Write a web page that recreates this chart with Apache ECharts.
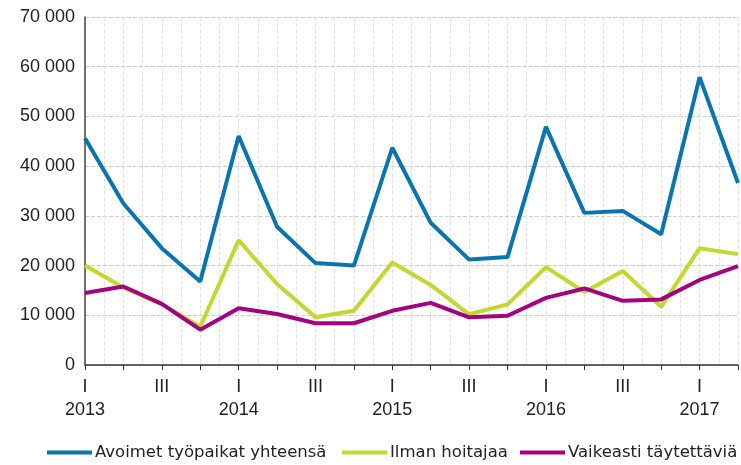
<!DOCTYPE html>
<html><head><meta charset="utf-8">
<script src="https://cdn.jsdelivr.net/npm/echarts@6/dist/echarts.min.js"></script>
<style>html,body{margin:0;padding:0;background:#fff}#c{width:741px;height:465px}</style>
</head><body><div id="c"></div>
<script>
const years = ['2013','2014','2015','2016','2017'];
const quarterLabels = ['I','','III',''];
const seriesNames = ['Avoimet työpaikat yhteensä','Ilman hoitajaa','Vaikeasti täytettäviä'];
const avoimet = [45600,32500,23500,16800,46050,27800,20500,20000,43700,28600,21200,21700,47900,30600,31000,26300,57900,36600];
const ilmanHoitajaa = [20000,15600,12200,7700,25100,16300,9600,10900,20600,16100,10200,12200,19700,14700,18900,11700,23500,22300];
const vaikeasti = [14500,15800,12300,7100,11400,10250,8400,8400,10900,12500,9600,9900,13500,15400,12900,13200,17100,19900];
const yTicks = [0,10000,20000,30000,40000,50000,60000,70000];

const categories = [];
for (let i = 0; i < avoimet.length; i++) {
  const q = i % 4;
  const y = years[Math.floor(i / 4)];
  categories.push(q === 0 ? quarterLabels[q] + '\n' + y : quarterLabels[q]);
}
const colors = ['#0a74ae','#c2d730','#a4007f'];
const font = 'Liberation Sans, Arial, sans-serif';
const legendLefts = [42, 337, 515];
const chart = echarts.init(document.getElementById('c'), null, {renderer:'canvas'});
chart.setOption({
  animation: false,
  color: colors,
  grid: {left: 85, right: 3, top: 17, bottom: 100, containLabel: false},
  legend: seriesNames.map((n, i) => ({
    left: legendLefts[i], top: 439, icon: 'rect', itemWidth: 45, itemHeight: 4,
    textStyle: {fontFamily: 'DejaVu Sans', fontSize: 16.5, color: '#222', padding: [0,0,0,-2]},
    data: [n]
  })),
  xAxis: [{
    type: 'category', data: categories, boundaryGap: false,
    axisLine: {lineStyle: {color: '#333', width: 1.5}},
    axisTick: {show: true, interval: 0, length: 5, lineStyle: {color: '#333'}},
    axisLabel: {interval: 0, fontFamily: font, fontSize: 18, color: '#222', lineHeight: 23, margin: 11},
    splitLine: {show: false}
  },{
    type: 'value', min: 0, max: avoimet.length - 1, interval: 0.5, position: 'bottom',
    axisLine: {show: false}, axisTick: {show: false}, axisLabel: {show: false},
    splitLine: {show: true, lineStyle: {color: '#e3e3e3', type: 'dashed', width: 1}}
  }],
  yAxis: {
    type: 'value', min: yTicks[0], max: yTicks[yTicks.length-1], interval: 10000,
    axisLine: {show: true, lineStyle: {color: '#444', width: 1.5}},
    axisTick: {show: false},
    axisLabel: {fontFamily: font, fontSize: 18, color: '#222', margin: 10,
      formatter: v => String(v).replace(/\B(?=(\d{3})+(?!\d))/g, ' ')},
    splitLine: {show: true, lineStyle: {color: '#cfcfcf', type: 'dashed', width: 1}}
  },
  series: [
    {name: seriesNames[0], type: 'line', data: avoimet, symbol: 'none', lineStyle: {width: 4}, z: 3},
    {name: seriesNames[1], type: 'line', data: ilmanHoitajaa, symbol: 'none', lineStyle: {width: 4}, z: 2},
    {name: seriesNames[2], type: 'line', data: vaikeasti, symbol: 'none', lineStyle: {width: 4}, z: 4}
  ]
});
</script></body></html>
